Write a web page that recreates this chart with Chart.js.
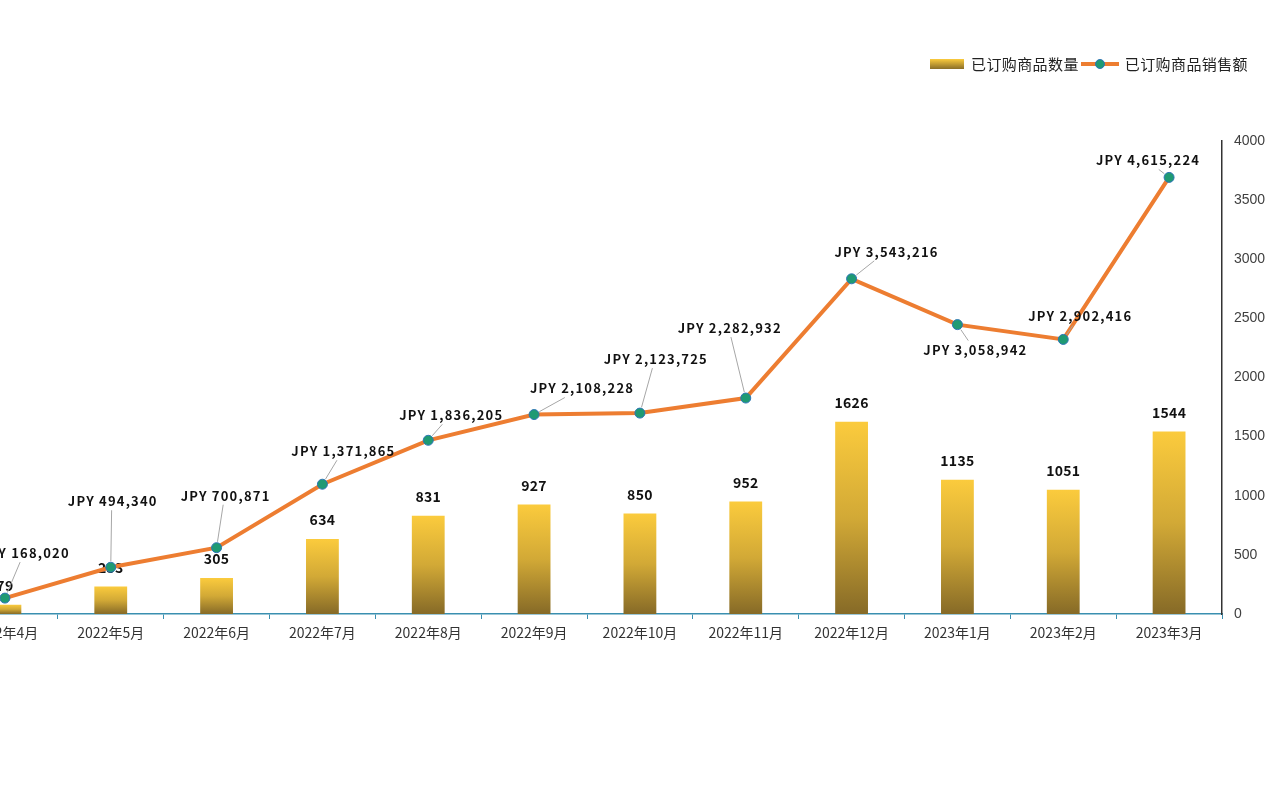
<!DOCTYPE html>
<html>
<head>
<meta charset="utf-8">
<script src="https://cdn.jsdelivr.net/npm/chart.js@4.4.0/dist/chart.umd.min.js"></script>
<style>
  html, body { margin: 0; padding: 0; background: #fff; overflow: hidden; }
  body { width: 1271px; height: 794px; position: relative; }
  #wrap { position: absolute; left: -54px; top: 0; width: 1325px; height: 654px; }
  #legend { position: absolute; top: 53px; left: 930px; display: flex; align-items: center;
            font-family: 'Noto Sans CJK SC', sans-serif; font-size: 15px; color: #222; white-space: nowrap;
            letter-spacing: 0.4px; }
  .sw-bar { width: 34px; height: 10px; background: linear-gradient(#FBCB3D, #8A6E28); margin-right: 7px; }
  .sw-line { position: relative; width: 38px; height: 4px; background: #ED7D31; margin: 0 6px 0 2px; }
  .sw-line i { position: absolute; left: 14px; top: -3px; width: 10px; height: 10px; border-radius: 50%;
               background: #1F9A73; box-sizing: border-box; border: 1px solid #2E75B6; }
</style>
</head>
<body>
<div id="wrap"><canvas id="myChart"></canvas></div>
<div id="legend">
  <span class="sw-bar"></span><span>已订购商品数量</span>
  <span class="sw-line"><i></i></span><span>已订购商品销售额</span>
</div>
<script>
// 数据
const categories = ['2022年4月', '2022年5月', '2022年6月', '2022年7月', '2022年8月', '2022年9月',
                    '2022年10月', '2022年11月', '2022年12月', '2023年1月', '2023年2月', '2023年3月'];
const quantity = [79, 233, 305, 634, 831, 927, 850, 952, 1626, 1135, 1051, 1544];
const sales = [168020, 494340, 700871, 1371865, 1836205, 2108228, 2123725, 2282932, 3543216, 3058942, 2902416, 4615224];
const qtyTicks = [0, 500, 1000, 1500, 2000, 2500, 3000, 3500, 4000];

// 标签相对数据点的位置 (dx, dy)
const salesLabelOffsets = [[19, -45], [1, -66], [8, -52], [20, -33], [22, -25], [47, -26],
                           [15, -54], [-17, -70], [34, -27], [17, 25], [16, -23], [-22, -17]];

const labelFont = 'bold 13px "Noto Sans CJK SC", sans-serif';

function fmtJPY(v) {
    return 'JPY ' + v.toLocaleString('en-US');
}

// 柱子渐变色
function barGradient(ctx) {
    const chart = ctx.chart;
    if (!chart.chartArea || ctx.type !== 'data') return '#D8AE34';
    const y = chart.scales.y;
    const top = y.getPixelForValue(ctx.raw);
    const bottom = y.getPixelForValue(0);
    const g = chart.ctx.createLinearGradient(0, top, 0, bottom);
    g.addColorStop(0, '#FBCB3D');
    g.addColorStop(0.5, '#D2A936');
    g.addColorStop(1, '#866A27');
    return g;
}

// 数据标签插件
const labelPlugin = {
    id: 'labels',
    afterDatasetDraw(chart, args) {
        if (args.index !== 0) return;
        const c = chart.ctx;
        c.save();
        c.font = 'bold 14px "Noto Sans CJK SC", sans-serif';
        c.letterSpacing = '0.3px';
        c.fillStyle = '#111';
        c.textAlign = 'center';
        c.textBaseline = 'middle';
        args.meta.data.forEach((bar, i) => {
            c.fillText(String(quantity[i]), bar.x, bar.y - 19);
        });
        c.restore();
    },
    afterDatasetsDraw(chart) {
        const c = chart.ctx;
        const meta = chart.getDatasetMeta(1);
        c.save();
        c.font = labelFont;
        c.letterSpacing = '1.2px';
        c.textAlign = 'center';
        c.textBaseline = 'middle';
        meta.data.forEach((pt, i) => {
            const [dx, dy] = salesLabelOffsets[i];
            const text = fmtJPY(sales[i]);
            const lx = pt.x + dx, ly = pt.y + dy;
            const hw = c.measureText(text).width / 2 + 2, hh = 9;
            // 引导线
            const vx = lx - pt.x, vy = ly - pt.y;
            const len = Math.hypot(vx, vy);
            const tEnd = Math.max(0, Math.max(Math.abs(vx) > hw ? (Math.abs(vx) - hw) / Math.abs(vx) : 0,
                                              Math.abs(vy) > hh ? (Math.abs(vy) - hh) / Math.abs(vy) : 0));
            const t0 = 6 / len;
            if (tEnd - t0 > 0.05 && len * (tEnd - t0) > 5) {
                c.strokeStyle = '#A6A6A6';
                c.lineWidth = 1;
                c.beginPath();
                c.moveTo(pt.x + vx * t0, pt.y + vy * t0);
                c.lineTo(pt.x + vx * tEnd, pt.y + vy * tEnd);
                c.stroke();
            }
            c.fillStyle = '#111';
            c.fillText(text, lx + 1, ly);
        });
        c.restore();
    }
};

const ctx = document.getElementById('myChart').getContext('2d');
const chart = new Chart(ctx, {
    data: {
        labels: categories,
        datasets: [{
            type: 'bar',
            label: '已订购商品数量',
            data: quantity,
            yAxisID: 'y',
            backgroundColor: barGradient,
            barPercentage: 0.31,
            categoryPercentage: 1,
            order: 1
        }, {
            type: 'line',
            label: '已订购商品销售额',
            data: sales,
            yAxisID: 'y1',
            borderColor: '#ED7D31',
            borderWidth: 4,
            pointRadius: 5,
            pointBackgroundColor: '#1F9A73',
            pointBorderColor: '#2E75B6',
            pointBorderWidth: 1,
            tension: 0,
            order: 0
        }]
    },
    options: {
        responsive: true,
        maintainAspectRatio: false,
        animation: false,
        layout: { padding: { top: 141, left: 0, right: 0, bottom: 0 } },
        plugins: { legend: { display: false }, tooltip: { enabled: false } },
        scales: {
            x: {
                offset: true,
                grid: { display: true, drawOnChartArea: false, drawTicks: true, tickLength: 5,
                        color: '#3A8FB0', offset: true },
                border: { display: true, color: '#3A8FB0', width: 1.5 },
                ticks: { color: '#333', padding: 5, maxRotation: 0, autoSkip: false,
                         font: { family: '"Noto Sans CJK SC", sans-serif', size: 14 } },
                afterFit(scale) { scale.height = 40; }
            },
            y: {
                position: 'right',
                min: 0,
                max: 4000,
                afterBuildTicks(scale) { scale.ticks = qtyTicks.map(v => ({ value: v })); },
                grid: { display: false, drawTicks: false },
                border: { display: true, color: '#333', width: 1.5 },
                ticks: { color: '#404040', padding: 12, callback: v => String(v),
                         font: { family: 'Arial, "Liberation Sans"', size: 14 } },
                afterFit(scale) { scale.width = 49; }
            },
            y1: {
                display: false,
                position: 'left',
                min: 0,
                max: 5000000
            }
        }
    },
    plugins: [labelPlugin]
});
</script>
</body>
</html>
